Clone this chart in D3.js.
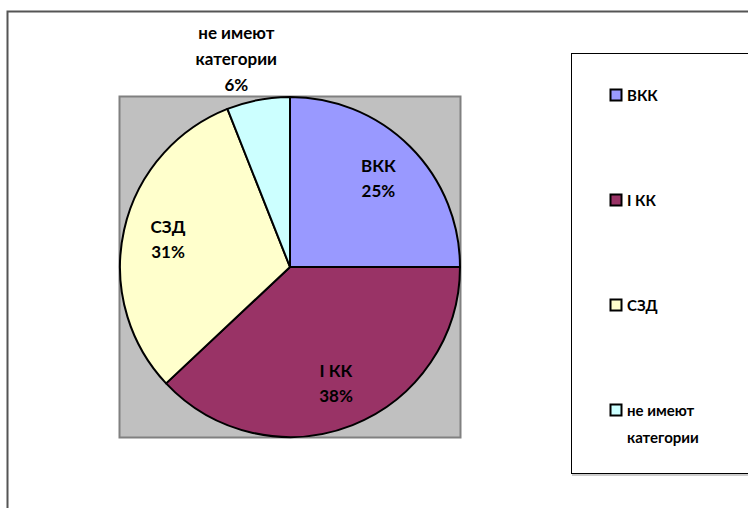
<!DOCTYPE html>
<html lang="ru">
<head>
    <meta charset="utf-8">
    <title>Категории</title>
    <script src="https://d3js.org/d3.v7.min.js"></script>
    <style>
        body { margin: 0; background: #fff; }
        text { font-family: Lato, "Open Sans", sans-serif; font-weight: bold; fill: #000; }
    </style>
</head>
<body>
<script>

// slice names and shares (percent)
var categories = ["ВКК", "I КК", "СЗД", "не имеют категории"];
var values     = [25, 38, 31, 6];
var colors     = ["#9999FF", "#993366", "#FFFFCC", "#CCFFFF"];
// label lines shown on the pie (legend breaks the long name too)
var labelLines = [["ВКК"], ["I КК"], ["СЗД"], ["не имеют", "категории"]];

const W = 748, H = 508;
const cx = 290, cy = 267, radius = 170;

const svg = d3.select("body").append("svg")
    .attr("width", W).attr("height", H);

// outer chart frame (only top and left edges visible)
svg.append("path")
    .attr("d", "M7.5,508 V11.5 H748")
    .attr("fill", "none")
    .attr("stroke", "#555")
    .attr("stroke-width", 2);

// grey plot area
svg.append("rect")
    .attr("x", cx - radius - 0.5).attr("y", cy - radius - 0.5)
    .attr("width", radius * 2 + 1).attr("height", radius * 2 + 1)
    .attr("fill", "#C0C0C0")
    .attr("stroke", "#808080")
    .attr("stroke-width", 2);

var pie = d3.pie().sort(null).value(function (d) { return d; });
var arcs = pie(values);

var arc = d3.arc().innerRadius(0).outerRadius(radius);
var labelArc = d3.arc().innerRadius(125).outerRadius(125);
var outerArc = d3.arc().innerRadius(212).outerRadius(212);

var g = svg.append("g").attr("transform", "translate(" + cx + "," + cy + ")");

g.selectAll("path.slice")
    .data(arcs)
    .enter().append("path")
    .attr("class", "slice")
    .attr("d", arc)
    .attr("fill", function (d, i) { return colors[i]; })
    .attr("stroke", "#000")
    .attr("stroke-width", 2)
    .attr("stroke-linejoin", "round");

// data labels: name + percent
g.selectAll("text.lbl")
    .data(arcs)
    .enter().append("text")
    .attr("class", "lbl")
    .attr("text-anchor", "middle")
    .attr("font-size", 17)
    .each(function (d, i) {
        var small = values[i] < 10;
        var c = small ? outerArc.centroid(d) : labelArc.centroid(d);
        var lines = labelLines[i].concat([values[i] + "%"]);
        var step = small ? 26 : 25;
        var x = c[0] + (small ? -14 : 0);
        var y0 = c[1] - (lines.length - 1) * step / 2 + 6;
        var t = d3.select(this);
        lines.forEach(function (s, k) {
            t.append("tspan").attr("x", x).attr("y", y0 + k * step).text(s);
        });
    });

// legend
var lg = svg.append("g");
lg.append("rect")
    .attr("x", 571.5).attr("y", 53.5)
    .attr("width", 200).attr("height", 420)
    .attr("fill", "#fff")
    .attr("stroke", "#000")
    .attr("stroke-width", 1);
lg.append("line")
    .attr("x1", 572).attr("x2", 748).attr("y1", 475).attr("y2", 475)
    .attr("stroke", "#999").attr("stroke-width", 1);

var legendY = d3.scalePoint().domain(categories).range([95, 410]);

var items = lg.selectAll("g.item")
    .data(categories)
    .enter().append("g")
    .attr("class", "item")
    .attr("transform", function (d) { return "translate(610," + legendY(d) + ")"; });

items.append("rect")
    .attr("x", 0.5).attr("y", -5.5)
    .attr("width", 11).attr("height", 11)
    .attr("fill", function (d, i) { return colors[i]; })
    .attr("stroke", "#000")
    .attr("stroke-width", 2);

items.append("text")
    .attr("font-size", 15)
    .each(function (d, i) {
        var t = d3.select(this);
        labelLines[i].forEach(function (s, k) {
            t.append("tspan").attr("x", 17).attr("y", 5.5 + k * 27).text(s);
        });
    });

</script>
</body>
</html>
